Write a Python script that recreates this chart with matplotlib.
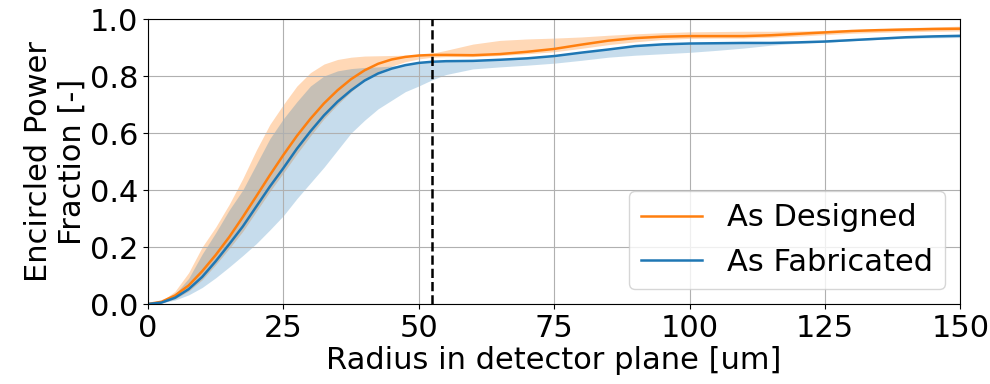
import numpy as np
import matplotlib
matplotlib.use('Agg')
import matplotlib.pyplot as plt

# Raio no plano do detector [um]
radius = [0, 2.5, 5, 7.5, 10, 12.5, 15, 17.5, 20, 22.5, 25, 27.5, 30, 32.5, 35,
          37.5, 40, 42.5, 45, 47.5, 50, 52.5, 55, 60, 65, 70, 75, 80, 85, 90,
          95, 100, 105, 110, 115, 120, 125, 130, 135, 140, 145, 150]

# As Designed
designed = [0, 0.008, 0.030, 0.065, 0.115, 0.172, 0.235, 0.305, 0.378, 0.452,
            0.523, 0.590, 0.650, 0.704, 0.750, 0.789, 0.820, 0.843, 0.858,
            0.867, 0.872, 0.874, 0.874, 0.873, 0.877, 0.885, 0.895, 0.910,
            0.924, 0.933, 0.938, 0.940, 0.940, 0.940, 0.943, 0.948, 0.953,
            0.958, 0.961, 0.963, 0.965, 0.966]
designed_hi = [0, 0.010, 0.045, 0.110, 0.200, 0.270, 0.350, 0.440, 0.540, 0.630,
               0.700, 0.765, 0.812, 0.842, 0.858, 0.866, 0.870, 0.871, 0.872,
               0.873, 0.874, 0.880, 0.890, 0.912, 0.925, 0.930, 0.933, 0.937,
               0.943, 0.948, 0.952, 0.955, 0.956, 0.957, 0.957, 0.958, 0.960,
               0.963, 0.966, 0.970, 0.972, 0.975]
designed_lo = [0, 0.004, 0.018, 0.045, 0.085, 0.138, 0.195, 0.255, 0.325, 0.395,
               0.460, 0.527, 0.590, 0.650, 0.700, 0.745, 0.785, 0.815, 0.835,
               0.850, 0.860, 0.866, 0.868, 0.868, 0.872, 0.878, 0.885, 0.897,
               0.910, 0.920, 0.928, 0.932, 0.933, 0.933, 0.936, 0.940, 0.945,
               0.950, 0.953, 0.955, 0.957, 0.958]

# As Fabricated
fabricated = [0, 0.005, 0.022, 0.052, 0.095, 0.150, 0.210, 0.272, 0.342, 0.412,
              0.477, 0.545, 0.606, 0.662, 0.710, 0.750, 0.784, 0.809, 0.826,
              0.838, 0.846, 0.850, 0.852, 0.853, 0.857, 0.862, 0.870, 0.882,
              0.893, 0.905, 0.911, 0.914, 0.915, 0.916, 0.916, 0.918, 0.921,
              0.926, 0.931, 0.936, 0.939, 0.941]
fabricated_hi = [0, 0.008, 0.035, 0.090, 0.175, 0.250, 0.330, 0.400, 0.490, 0.580,
                 0.650, 0.710, 0.765, 0.800, 0.818, 0.826, 0.830, 0.832, 0.835,
                 0.840, 0.847, 0.850, 0.852, 0.855, 0.860, 0.866, 0.874, 0.886,
                 0.897, 0.908, 0.913, 0.916, 0.917, 0.918, 0.919, 0.920, 0.923,
                 0.928, 0.933, 0.938, 0.941, 0.945]
fabricated_lo = [0, 0.004, 0.014, 0.032, 0.058, 0.092, 0.130, 0.170, 0.212, 0.260,
                 0.310, 0.370, 0.425, 0.480, 0.540, 0.600, 0.645, 0.685, 0.715,
                 0.745, 0.765, 0.787, 0.805, 0.825, 0.832, 0.838, 0.845, 0.855,
                 0.866, 0.873, 0.878, 0.883, 0.890, 0.898, 0.908, 0.915, 0.918,
                 0.924, 0.928, 0.932, 0.934, 0.935]

cutoff = 52.4

plt.rcParams['font.family'] = 'DejaVu Sans'
fig = plt.figure(figsize=(9.9, 3.84), dpi=100)
ax = fig.add_axes([0.1495, 0.2083, 0.8205, 0.7422])

ax.fill_between(radius, designed_lo, designed_hi, color='C1', alpha=0.3, lw=0)
ax.fill_between(radius, fabricated_lo, fabricated_hi, color='C0', alpha=0.25, lw=0)
ax.plot(radius, designed, color='C1', lw=1.8, label='As Designed')
ax.plot(radius, fabricated, color='C0', lw=1.8, label='As Fabricated')
ax.axvline(cutoff, color='black', ls='--', lw=1.8)

ax.set_xlim(0, 150)
ax.set_ylim(0, 1)
ax.set_xticks([0, 25, 50, 75, 100, 125, 150])
ax.set_yticks([0, 0.2, 0.4, 0.6, 0.8, 1.0])
ax.tick_params(labelsize=22)
ax.grid(True)
ax.set_xlabel('Radius in detector plane [um]', fontsize=22, labelpad=2)
ax.set_ylabel('Encircled Power\nFraction [-]', fontsize=22, labelpad=2)
ax.legend(loc='lower right', fontsize=22, borderaxespad=0.5)

plt.savefig('out.png', dpi=100)
